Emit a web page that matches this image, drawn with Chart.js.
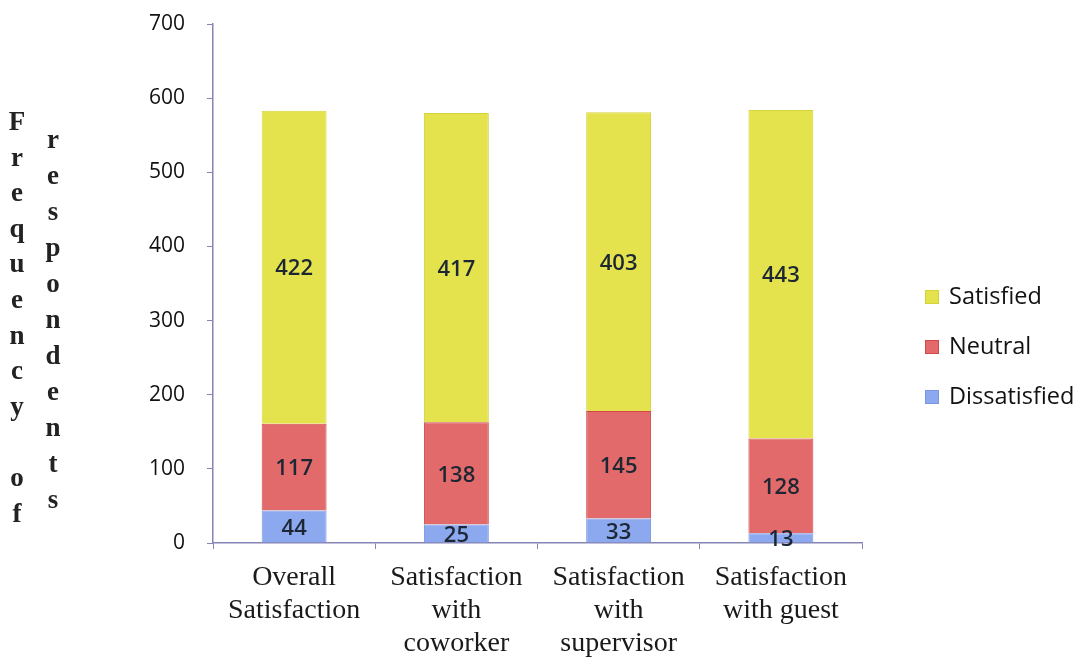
<!DOCTYPE html>
<html>
<head>
<meta charset="utf-8">
<script src="https://cdn.jsdelivr.net/npm/chart.js@4/dist/chart.umd.min.js"></script>
<style>
  html, body { margin: 0; padding: 0; background: #fff; }
  #wrap { width: 1085px; height: 657px; position: relative; }
</style>
</head>
<body>
<div id="wrap"><canvas id="satisfaction-chart"></canvas></div>
<script>
const categories = [
  ['Overall', 'Satisfaction'],
  ['Satisfaction', 'with', 'coworker'],
  ['Satisfaction', 'with', 'supervisor'],
  ['Satisfaction', 'with guest']
];
const dissatisfied = [44, 25, 33, 13];
const neutral = [117, 138, 145, 128];
const satisfied = [422, 417, 403, 443];
const yTicks = [0, 100, 200, 300, 400, 500, 600, 700];
const axisTitleLeft = 'Frequency of';
const axisTitleRight = 'respondents';

const axisColor = '#8584b4';

// value printed in the middle of every stacked segment
const segmentLabels = {
  id: 'segmentLabels',
  afterDatasetsDraw(chart) {
    const ctx = chart.ctx;
    ctx.save();
    ctx.font = '600 22px "Open Sans"';
    ctx.fillStyle = '#1c2733';
    ctx.textAlign = 'center';
    ctx.textBaseline = 'middle';
    chart.data.datasets.forEach((ds, i) => {
      chart.getDatasetMeta(i).data.forEach((bar, j) => {
        ctx.fillText(ds.data[j], bar.x, (bar.y + bar.base) / 2 + 2);
      });
    });
    ctx.restore();
  }
};

// stacked-letter axis title, two columns
const stackedTitle = {
  id: 'stackedTitle',
  afterDraw(chart) {
    const ctx = chart.ctx;
    ctx.save();
    ctx.font = 'bold 27px "Liberation Serif"';
    ctx.fillStyle = '#222';
    ctx.textAlign = 'center';
    ctx.textBaseline = 'middle';
    axisTitleLeft.split('').forEach((ch, k) => ctx.fillText(ch, 17, 123 + k * 35.6));
    axisTitleRight.split('').forEach((ch, k) => ctx.fillText(ch, 53, 141 + k * 36));
    ctx.restore();
  }
};

// legend on the right, top series first
const sideLegend = {
  id: 'sideLegend',
  afterDraw(chart) {
    const ctx = chart.ctx;
    ctx.save();
    ctx.font = '23.5px "Open Sans"';
    ctx.textBaseline = 'middle';
    ctx.textAlign = 'left';
    const items = chart.data.datasets.slice().reverse();
    items.forEach((ds, k) => {
      const y = 297 + k * 50;
      ctx.fillStyle = ds.backgroundColor;
      ctx.fillRect(925, y - 7, 14, 14);
      ctx.strokeStyle = ds.borderColor;
      ctx.lineWidth = 1;
      ctx.strokeRect(925.5, y - 6.5, 13, 13);
      ctx.fillStyle = '#111';
      ctx.fillText(ds.label, 949, y);
    });
    ctx.restore();
  }
};

new Chart(document.getElementById('satisfaction-chart'), {
  type: 'bar',
  data: {
    labels: categories,
    datasets: [
      {
        label: 'Dissatisfied',
        data: dissatisfied,
        backgroundColor: '#8ca8ef',
        borderColor: '#7a96e0',
        borderWidth: 1
      },
      {
        label: 'Neutral',
        data: neutral,
        backgroundColor: '#e26a6a',
        borderColor: '#d24848',
        borderWidth: 1
      },
      {
        label: 'Satisfied',
        data: satisfied,
        backgroundColor: '#e4e34e',
        borderColor: '#d4d33c',
        borderWidth: 1
      }
    ]
  },
  options: {
    responsive: true,
    maintainAspectRatio: false,
    animation: false,
    datasets: {
      bar: { barPercentage: 0.4, categoryPercentage: 1 }
    },
    layout: {
      padding: { left: 0, right: 223, top: 24, bottom: 0 }
    },
    plugins: {
      legend: { display: false },
      tooltip: { enabled: false }
    },
    scales: {
      x: {
        stacked: true,
        border: { color: axisColor, width: 1.5 },
        grid: {
          display: true,
          drawOnChartArea: false,
          color: axisColor,
          tickLength: 6
        },
        ticks: {
          color: '#1a1a1a',
          padding: 12,
          maxRotation: 0,
          font: { family: '"Liberation Serif"', size: 28, lineHeight: 1.18 }
        },
        afterFit(scale) { scale.height = 114; }
      },
      y: {
        stacked: true,
        min: yTicks[0],
        max: yTicks[yTicks.length - 1],
        afterBuildTicks(scale) { scale.ticks = yTicks.map(v => ({ value: v })); },
        border: { color: axisColor, width: 1.5 },
        grid: {
          display: true,
          drawOnChartArea: false,
          color: axisColor,
          tickLength: 6
        },
        ticks: {
          color: '#111',
          padding: 22,
          font: { family: '"Open Sans"', size: 21 }
        },
        afterFit(scale) {
          scale.width = 213;
          scale.paddingTop = 0;
          scale.paddingBottom = 0;
        }
      }
    }
  },
  plugins: [segmentLabels, stackedTitle, sideLegend]
});
</script>
</body>
</html>
